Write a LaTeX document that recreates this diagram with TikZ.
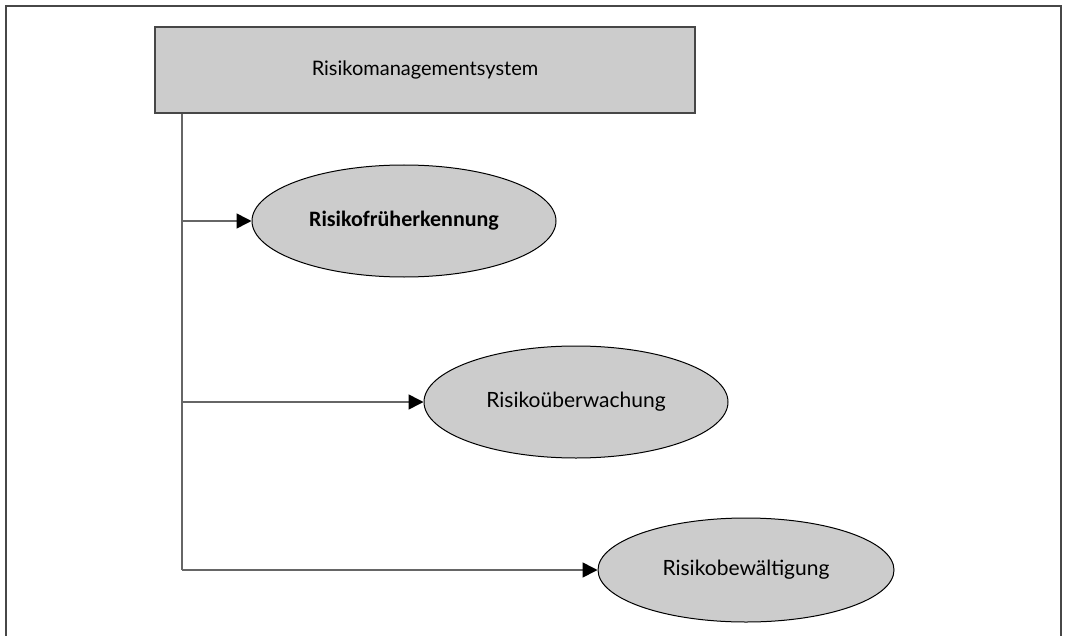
\documentclass[tikz,border=0pt]{standalone}
\usepackage{fontspec}
\setmainfont{Lato}
\newfontfamily\calfont{Carlito}
\usetikzlibrary{shapes.geometric,arrows.meta}
\definecolor{boxgray}{gray}{0.8}
\definecolor{linegray}{gray}{0.4}
\tikzset{
  sysbox/.style={draw=linegray!70!black, line width=0.9pt, fill=boxgray, minimum width=270pt, minimum height=43pt, inner sep=0pt, font=\fontsize{10}{12}\selectfont},
  task/.style={ellipse, draw=black, line width=0.5pt, fill=boxgray, inner sep=0pt, minimum width=152pt, minimum height=56pt, font=\fontsize{10.5}{12}\selectfont},
  link/.style={draw=linegray, line width=0.8pt, -{Triangle[length=7.5pt,width=7.5pt,color=black]}}
}
\begin{document}
\begin{tikzpicture}[x=0.5pt,y=-0.5pt]
	\useasboundingbox (0,0) rectangle (1069,636);
	\draw[linegray!70!black, line width=0.8pt] (6,636) -- (6,6) -- (1061,6) -- (1061,636);
	
	\node[sysbox] (sys) at (425,70) {Risikomanagementsystem};
	
	\node[task, font=\calfont\bfseries\fontsize{11}{13}\selectfont] (early) at (404,221) {Risikofrüherkennung};
	\node[task] (watch) at (576,402) {Risikoüberwachung};
	\node[task, minimum width=148pt, minimum height=52pt] (handle) at (746,570) {Risikobewältigung};
	
	\coordinate (j1) at (182,221);
	\coordinate (j2) at (182,402);
	\coordinate (j3) at (182,570);
	
	\draw[linegray, line width=0.8pt] (sys.south -| j1) -- (j3);
	\draw[link] (j1) -- (early.west);
	\draw[link] (j2) -- (watch.west);
	\draw[link] (j3) -- (handle.west);
\end{tikzpicture}
\end{document}
